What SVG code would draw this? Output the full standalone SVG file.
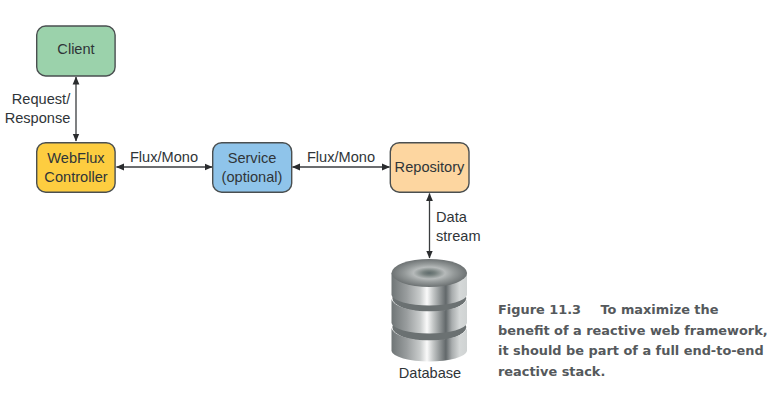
<svg xmlns="http://www.w3.org/2000/svg" width="776" height="400" viewBox="0 0 776 400">
<style>
.box{stroke:#4a4f50;stroke-width:1.4}
.lbl{font-family:"Liberation Sans",Arial,sans-serif;font-size:14.6px;fill:#2f3538;text-anchor:middle}
.l{text-anchor:start}
.cap{font-family:"DejaVu Sans",Verdana,sans-serif;font-weight:bold;font-size:12.9px;fill:#55595c}
.c{fill:none;stroke:#3a3d3f;stroke-width:1.3;marker-start:url(#a);marker-end:url(#a)}
.s{fill:url(#side)}
.d{fill:#6b7172}
</style>
<defs>
<marker id="a" viewBox="0 0 8 8" refX="7.500" refY="4" markerWidth="8" markerHeight="8" markerUnits="userSpaceOnUse" orient="auto-start-reverse"><path d="M0 0.600L8 4L0 7.400Z" fill="#2a2c2e"/></marker>
<linearGradient id="side" x1="0" x2="1" y1="0" y2="0">
<stop offset="0" stop-color="#6f7576"/><stop offset=".2" stop-color="#999d9e"/><stop offset=".38" stop-color="#c9cccc"/><stop offset=".47" stop-color="#fafafa"/><stop offset=".55" stop-color="#c5c8c8"/><stop offset=".72" stop-color="#62686a"/><stop offset=".8" stop-color="#a8acad"/><stop offset=".9" stop-color="#d5d8d8"/><stop offset="1" stop-color="#cfd3d3"/>
</linearGradient>
<radialGradient id="top" cx=".5" cy=".5" r=".5">
<stop offset="0" stop-color="#5f6b6c"/><stop offset=".16" stop-color="#77817f"/><stop offset=".42" stop-color="#b6baba"/><stop offset=".65" stop-color="#959a9a"/><stop offset="1" stop-color="#6d7273"/>
</radialGradient>
</defs>
<g id="connectors">
<path class="c" d="M76 77V141"/>
<path class="c" d="M116.500 167H212"/>
<path class="c" d="M292.500 167H389.500"/>
<path class="c" d="M429.500 193.500V258"/>
</g>
<g id="client"><rect class="box" x="36.700" y="26" width="78.400" height="50" rx="9" fill="#9bd2ab"/><text class="lbl" x="76" y="54">Client</text></g>
<g id="webflux"><rect class="box" x="36.700" y="142.700" width="78.400" height="49.500" rx="9" fill="#fdcd40"/><text class="lbl" x="76" y="163">WebFlux</text><text class="lbl" x="76" y="181.500">Controller</text></g>
<g id="service"><rect class="box" x="212.700" y="142.700" width="79" height="49.500" rx="9" fill="#8fc4ea"/><text class="lbl" x="252" y="163">Service</text><text class="lbl" x="252" y="181.500">(optional)</text></g>
<g id="repository"><rect class="box" x="390.300" y="142.700" width="78.700" height="49.500" rx="9" fill="#fdd6a0"/><text class="lbl" x="429.500" y="172">Repository</text></g>
<g id="database">
<ellipse class="d" cx="429.300" cy="327" rx="37" ry="14"/>
<path class="s" d="M391.500 328V351A37.800 11 0 0 0 467 351V328A37.800 13 0 0 1 391.500 328Z"/>
<ellipse class="d" cx="429.300" cy="298" rx="37" ry="14"/>
<path class="s" d="M391.500 299V323A37.800 11 0 0 0 467 323V299A37.800 13 0 0 1 391.500 299Z"/>
<path class="s" d="M391.500 273V295A37.800 11 0 0 0 467 295V273Z"/>
<ellipse cx="429.300" cy="273" rx="37.800" ry="14" fill="url(#top)"/>
<text class="lbl" x="430" y="378">Database</text>
</g>
<g id="labels">
<text class="lbl" x="41" y="104">Request/</text>
<text class="lbl" x="37.500" y="123">Response</text>
<text class="lbl" x="164" y="162">Flux/Mono</text>
<text class="lbl" x="341" y="162">Flux/Mono</text>
<text class="lbl l" x="436" y="222">Data</text>
<text class="lbl l" x="436" y="241">stream</text>
</g>
<g id="caption">
<text class="cap" x="498" y="313.500">Figure 11.3<tspan x="600.500">To maximize the</tspan></text>
<text class="cap" x="498" y="334.500">benefit of a reactive web framework,</text>
<text class="cap" x="498" y="355">it should be part of a full end-to-end</text>
<text class="cap" x="498" y="375.500">reactive stack.</text>
</g>
</svg>
